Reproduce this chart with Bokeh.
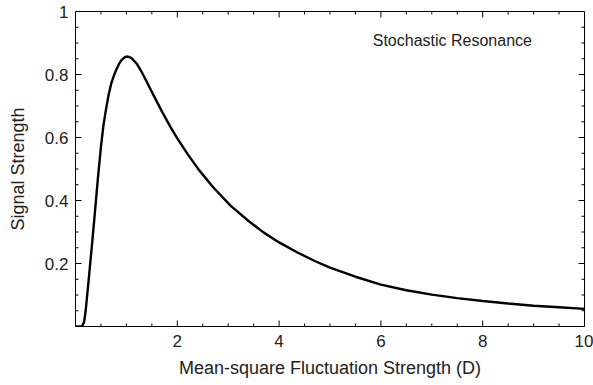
from bokeh.plotting import figure
from bokeh.models import FixedTicker, Range1d, Label
from bokeh.embed import file_html
from bokeh.resources import INLINE

# Data
D_values = [0.0, 0.13, 0.17, 0.2, 0.26, 0.33, 0.38, 0.44, 0.5, 0.55, 0.6, 0.65, 0.7,
            0.75, 0.8, 0.85, 0.9, 0.95, 1.0, 1.05, 1.1, 1.2, 1.3, 1.4, 1.54, 1.7,
            1.87, 2.0, 2.2, 2.42, 2.7, 3.05, 3.4, 3.7, 4.0, 4.36, 4.7, 5.0, 5.5,
            6.0, 6.5, 7.0, 7.5, 8.0, 8.5, 9.0, 9.5, 10.0]
signal_values = [0.0, 0.0, 0.015, 0.05, 0.15, 0.27, 0.36, 0.47, 0.57, 0.64, 0.69, 0.735, 0.77,
                 0.795, 0.815, 0.832, 0.845, 0.853, 0.857, 0.856, 0.852, 0.835, 0.808, 0.777,
                 0.732, 0.682, 0.632, 0.597, 0.548, 0.498, 0.443, 0.383, 0.335, 0.298, 0.267,
                 0.235, 0.208, 0.187, 0.158, 0.133, 0.115, 0.101, 0.09, 0.081, 0.073, 0.066,
                 0.061, 0.056]

x_major_ticks = [2, 4, 6, 8, 10]
x_minor_ticks = [0.5, 1, 1.5, 2.5, 3, 3.5, 4.5, 5, 5.5, 6.5, 7, 7.5, 8.5, 9, 9.5]
y_major_ticks = [0.2, 0.4, 0.6, 0.8, 1.0]
y_minor_ticks = [0.05, 0.1, 0.15, 0.25, 0.3, 0.35, 0.45, 0.5, 0.55, 0.65, 0.7, 0.75,
                 0.85, 0.9, 0.95]
y_tick_labels = {0.2: "0.2", 0.4: "0.4", 0.6: "0.6", 0.8: "0.8", 1.0: "1"}

x_label = "Mean-square Fluctuation Strength (D)"
y_label = "Signal Strength"
annotation = "Stochastic Resonance"
annotation_pos = (5.84, 0.908)

FONT = "Liberation Sans"
X0, X1, Y0, Y1 = 0, 10, 0, 1

p = figure(width=593, height=385, x_range=Range1d(X0, X1), y_range=Range1d(Y0, Y1),
           output_backend="svg", toolbar_location=None,
           min_border_left=75, min_border_top=11, min_border_right=9, min_border_bottom=59)
p.grid.visible = False
p.outline_line_color = "black"
p.outline_line_width = 1
p.background_fill_color = "white"
p.border_fill_color = "white"

for ax in (p.xaxis[0], p.yaxis[0]):
    ax.axis_line_color = "black"
    ax.axis_line_width = 1
    ax.major_tick_in = 0
    ax.major_tick_out = 0
    ax.minor_tick_in = 0
    ax.minor_tick_out = 0
    ax.major_label_text_font = FONT
    ax.major_label_text_font_size = "17px"
    ax.major_label_text_color = "#222222"
    ax.axis_label_text_font = FONT
    ax.axis_label_text_font_size = "18px"
    ax.axis_label_text_font_style = "normal"
    ax.axis_label_text_color = "#222222"

xa = p.xaxis[0]
xa.ticker = FixedTicker(ticks=x_major_ticks, minor_ticks=x_minor_ticks)
xa.axis_label = x_label
xa.major_label_standoff = 8
xa.axis_label_standoff = 8

ya = p.yaxis[0]
ya.ticker = FixedTicker(ticks=y_major_ticks, minor_ticks=y_minor_ticks)
ya.axis_label = y_label
ya.major_label_overrides = y_tick_labels
ya.major_label_standoff = 7
ya.axis_label_standoff = 14

# Inward frame ticks on all four sides (Mathematica-style frame)
MAJ_Y = 0.019   # 6 px tick length in y units
MIN_Y = 0.0095  # 3 px
MAJ_X = 0.118   # 6 px tick length in x units
MIN_X = 0.059   # 3 px

xt_pos = x_major_ticks + x_minor_ticks
xt_len = [MAJ_Y] * len(x_major_ticks) + [MIN_Y] * len(x_minor_ticks)
p.segment(x0=xt_pos, y0=[Y0] * len(xt_pos), x1=xt_pos, y1=[Y0 + l for l in xt_len],
          line_color="black", line_width=1)
p.segment(x0=xt_pos, y0=[Y1] * len(xt_pos), x1=xt_pos, y1=[Y1 - l for l in xt_len],
          line_color="black", line_width=1)

yt_pos = y_major_ticks + y_minor_ticks
yt_len = [MAJ_X] * len(y_major_ticks) + [MIN_X] * len(y_minor_ticks)
p.segment(x0=[X0] * len(yt_pos), y0=yt_pos, x1=[X0 + l for l in yt_len], y1=yt_pos,
          line_color="black", line_width=1)
p.segment(x0=[X1] * len(yt_pos), y0=yt_pos, x1=[X1 - l for l in yt_len], y1=yt_pos,
          line_color="black", line_width=1)

p.line(D_values, signal_values, line_color="black", line_width=2.4)

p.add_layout(Label(x=annotation_pos[0], y=annotation_pos[1], text=annotation,
                   text_font=FONT, text_font_size="16px", text_baseline="middle",
                   text_color="#222222"))

open("out.html", "w").write(file_html(p, INLINE))
